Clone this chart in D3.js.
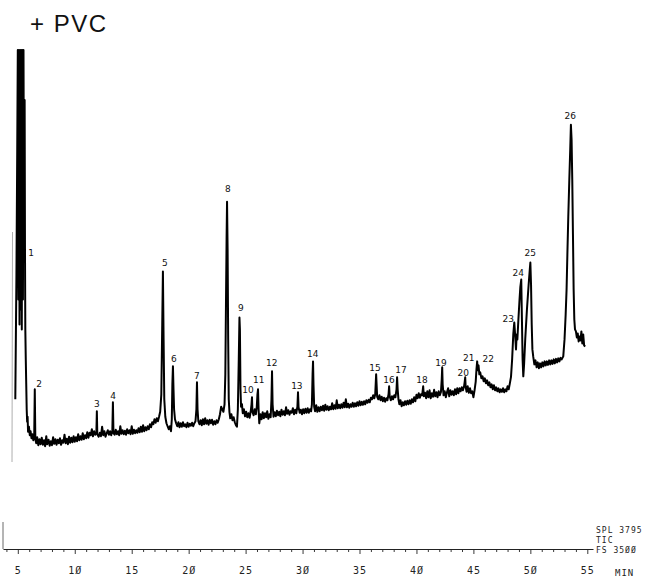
<!DOCTYPE html>
<html>
<head>
<meta charset="utf-8">
<script src="https://cdn.jsdelivr.net/npm/d3@7"></script>
<style>
  body { margin: 0; background: #fff; }
  svg { display: block; }
  .peak-label { font-family: "DejaVu Sans", sans-serif; font-size: 9px; fill: #111; text-anchor: middle; }
  .prn { font-family: "DejaVu Sans Mono", monospace; font-size: 9px; fill: #222; letter-spacing: 1px; }
  .axis path, .axis line { stroke: #222; }
</style>
</head>
<body>
<svg width="652" height="586"></svg>
<script>
var titleText = "+ PVC";
var infoLines = ["SPL 3795", "TIC", "FS 35ØØ"];
var unitLabel = "MIN";

// retention time (min) / relative signal (% of full scale)
var trace = [
  [4.78,30],[4.88,55],[4.95,80],[5.0,100],[5.05,50],[5.1,100],[5.15,45],[5.2,100],[5.25,48],[5.3,100],
  [5.35,44],[5.4,100],[5.45,50],[5.5,100],[5.55,60],[5.6,90],[5.63,60],[5.66,44],[5.7,38],[5.74,33],
  [5.78,28],[5.82,25.5],[5.86,26.5],[5.9,23.5],[5.98,24.5],[6.05,22.8],[6.12,23.6],[6.2,22.2],[6.28,23],
  [6.36,21.8],[6.44,22.6],[6.49,32],[6.54,22],[6.62,21.2],[6.7,22.4],[6.8,20.8],[6.9,22],[7.0,21],[7.1,22.3],
  [7.2,20.9],[7.3,21.8],[7.4,20.6],[7.5,22.6],[7.58,21],[7.7,21.9],[7.8,20.7],[7.9,21.6],[8.0,20.8],[8.1,22.4],
  [8.2,21.1],[8.3,22],[8.4,20.9],[8.5,21.9],[8.6,21.2],[8.7,22.2],[8.8,20.9],[8.9,21.8],[9.0,21.3],[9.1,22.9],
  [9.2,21.2],[9.3,22.1],[9.4,21],[9.5,22.5],[9.6,21.3],[9.7,22.3],[9.8,21.4],[9.9,22.6],[10.0,21.5],[10.1,22.4],
  [10.2,21.6],[10.3,23],[10.4,21.8],[10.5,22.6],[10.6,21.9],[10.7,23.2],[10.8,22],[10.9,22.8],[11.0,22.2],[11.1,23.4],
  [11.2,22.3],[11.3,23.3],[11.4,22.8],[11.5,24],[11.6,22.6],[11.7,23.6],[11.8,22.9],[11.9,23.4],[11.94,27.6],[11.98,23],
  [12.1,22.5],[12.2,23.3],[12.3,22.6],[12.4,24.5],[12.5,22.8],[12.6,23.6],[12.7,22.5],[12.8,23.2],[12.9,23.8],[13.0,22.9],
  [13.1,23.6],[13.2,22.8],[13.3,23.7],[13.35,29.4],[13.4,23.2],[13.5,22.9],[13.6,23.9],[13.7,23],[13.8,23.6],[13.9,22.8],
  [14.0,24.6],[14.1,23.1],[14.2,23.8],[14.3,23],[14.4,23.7],[14.5,22.9],[14.6,24],[14.7,23.2],[14.8,23.8],[14.9,23],
  [15.0,24.6],[15.1,23.1],[15.2,23.9],[15.3,23.2],[15.4,23.8],[15.5,23.3],[15.6,24.2],[15.7,23.4],[15.8,24.5],[15.9,23.5],
  [16.0,24.8],[16.1,23.6],[16.2,24.4],[16.3,23.8],[16.4,24.6],[16.5,24],[16.6,25],[16.7,24.4],[16.8,25.4],[16.9,25],
  [17.0,26],[17.1,25.3],[17.2,26.2],[17.3,25.6],[17.4,26.5],[17.5,27.5],[17.6,31],[17.68,45],[17.74,55.6],[17.8,42],
  [17.86,30],[17.95,26.5],[18.05,25.2],[18.15,24.6],[18.25,24],[18.35,24.6],[18.45,23.6],[18.52,26],[18.57,33],[18.62,36.6],
  [18.67,32],[18.72,28],[18.8,26],[18.9,25.2],[19.0,24.6],[19.1,25.4],[19.2,24.4],[19.3,25.2],[19.4,24.5],[19.5,25.4],
  [19.6,24.6],[19.7,25],[19.8,24.4],[19.9,25.3],[20.0,24.5],[20.1,25.1],[20.2,24.7],[20.3,25.3],[20.4,24.6],[20.5,25.2],
  [20.6,25.6],[20.68,28],[20.73,33.4],[20.78,28],[20.85,25.6],[20.95,25],[21.05,25.8],[21.15,24.8],[21.25,26],[21.35,25],
  [21.45,26.2],[21.55,25.1],[21.65,25.8],[21.75,24.9],[21.85,25.9],[21.95,25.2],[22.05,25.9],[22.15,24.9],[22.25,25.6],[22.35,25],
  [22.45,25.8],[22.55,25.3],[22.65,26],[22.75,27],[22.85,28.5],[22.95,28],[23.05,27.5],[23.15,29],[23.22,35],[23.28,50],
  [23.33,62],[23.37,69.6],[23.42,60],[23.47,42],[23.52,30],[23.58,27.5],[23.65,26.2],[23.75,27],[23.85,25.8],[23.95,26.4],
  [24.05,25.4],[24.15,24.8],[24.24,24.5],[24.32,28],[24.4,38],[24.46,46.4],[24.5,44],[24.55,32],[24.6,28.5],[24.68,29],
  [24.75,27.2],[24.85,28],[24.95,26.6],[25.05,27.5],[25.15,26.4],[25.25,27.2],[25.35,26.3],[25.45,27.6],[25.52,29],[25.56,30.4],
  [25.6,27.5],[25.7,26.8],[25.8,28],[25.9,27],[25.98,28.5],[26.04,31],[26.09,32],[26.14,28],[26.2,25.2],[26.3,27],
  [26.4,26],[26.5,27.4],[26.6,26.2],[26.7,27.2],[26.8,26.4],[26.9,27.6],[27.0,26.1],[27.1,27],[27.2,26.4],[27.27,30],
  [27.32,35.6],[27.37,29],[27.45,26.5],[27.55,27.4],[27.65,26.6],[27.75,27.7],[27.85,26.8],[27.95,27.5],[28.05,26.6],[28.15,27.9],
  [28.25,26.9],[28.35,27.6],[28.45,26.8],[28.55,28.4],[28.65,27.1],[28.75,27.8],[28.85,26.9],[28.95,27.6],[29.05,27.3],[29.15,28.2],
  [29.25,27],[29.35,27.9],[29.45,27.2],[29.55,28.6],[29.6,31.4],[29.65,28.4],[29.75,27.3],[29.85,27.9],[29.95,27],[30.05,28],
  [30.15,27.2],[30.25,28.1],[30.35,27.3],[30.45,28.2],[30.55,27.3],[30.65,28],[30.75,27.6],[30.82,29],[30.88,35],[30.92,37.6],
  [30.96,33],[31.02,28.5],[31.1,27.6],[31.2,28.8],[31.3,27.5],[31.4,28.4],[31.5,27.6],[31.6,28.5],[31.7,27.8],[31.8,28.7],
  [31.9,27.7],[32.0,28.9],[32.1,27.9],[32.2,28.6],[32.3,27.8],[32.4,28.5],[32.5,28],[32.6,29.2],[32.7,28],[32.8,28.8],
  [32.9,28.1],[33.0,29.8],[33.1,28.2],[33.2,28.9],[33.3,28.2],[33.4,29],[33.5,28.3],[33.6,29.3],[33.7,28.4],[33.8,30],
  [33.9,28.4],[34.0,29.1],[34.1,28.3],[34.2,29],[34.3,28.5],[34.4,29.3],[34.5,28.5],[34.6,29.2],[34.7,28.6],[34.8,29.4],
  [34.9,28.7],[35.0,29.6],[35.1,28.8],[35.2,29.5],[35.3,28.9],[35.4,29.6],[35.5,29],[35.6,29.8],[35.7,29.3],[35.8,29.9],
  [35.9,29.4],[36.0,30.3],[36.1,30],[36.2,30.8],[36.3,30.2],[36.38,31],[36.42,33],[36.46,35],[36.5,33],[36.55,30.5],
  [36.65,30],[36.75,30.8],[36.85,29.8],[36.95,30.5],[37.05,29.6],[37.15,30.3],[37.25,29.5],[37.35,30.2],[37.45,29.8],[37.55,31],
  [37.6,32.6],[37.65,30.6],[37.75,29.8],[37.85,30.6],[37.95,30],[38.05,30.8],[38.15,30.4],[38.25,32],[38.3,34.4],[38.35,32],
  [38.42,30],[38.5,29],[38.6,29.8],[38.7,28.6],[38.8,29.4],[38.9,28.8],[39.0,29.6],[39.1,28.9],[39.2,29.7],[39.3,29],
  [39.4,29.8],[39.5,29.1],[39.6,30],[39.7,29.4],[39.8,30.4],[39.9,29.6],[40.0,30.9],[40.1,30.2],[40.2,31.2],[40.3,30.3],
  [40.4,31],[40.5,30.8],[40.59,32.6],[40.65,30.6],[40.75,31.3],[40.85,30.2],[40.95,31.6],[41.05,30.4],[41.15,31.8],[41.25,30.2],
  [41.35,31.2],[41.45,30.5],[41.55,31.9],[41.65,30.6],[41.75,31.4],[41.85,30.4],[41.95,31.6],[42.05,30.8],[42.15,31.5],[42.22,34],
  [42.26,36.4],[42.3,33],[42.38,30.8],[42.48,31.6],[42.58,30.4],[42.68,31.4],[42.78,32.2],[42.88,30.6],[42.98,31.8],[43.08,30.9],
  [43.18,31.6],[43.28,30.8],[43.38,32],[43.48,31],[43.58,32.2],[43.68,31.2],[43.78,32.2],[43.88,31.6],[43.98,32.4],[44.08,31.8],
  [44.18,32.6],[44.24,33.6],[44.28,34.4],[44.32,32.5],[44.4,31.5],[44.5,32.6],[44.6,31.3],[44.7,32.2],[44.8,31.2],[44.9,31.6],
  [45.0,30.4],[45.1,31.8],[45.2,33.5],[45.27,36],[45.33,37.6],[45.38,35.8],[45.45,36.8],[45.52,35],[45.6,35.4],[45.7,34.2],
  [45.8,34.6],[45.9,33.6],[46.0,34.2],[46.1,33.2],[46.2,33.8],[46.3,32.8],[46.4,33.4],[46.5,32.4],[46.6,33],[46.7,32],
  [46.8,32.8],[46.9,31.8],[47.0,32.4],[47.1,31.6],[47.2,32.2],[47.3,31.4],[47.4,32],[47.5,31.5],[47.6,32.2],[47.7,31.4],
  [47.8,32],[47.9,31.6],[48.0,32.6],[48.1,32],[48.2,33.2],[48.3,34.5],[48.4,38],[48.5,43],[48.59,45.4],[48.66,43],
  [48.74,40],[48.8,43],[48.86,42],[48.95,46],[49.05,50],[49.12,52.5],[49.2,54],[49.26,46],[49.32,38],[49.38,34.6],
  [49.45,37],[49.55,42],[49.7,48],[49.85,53],[49.95,56],[50.0,57.4],[50.06,53],[50.12,45],[50.18,40],[50.25,38.6],
  [50.35,37],[50.45,37.8],[50.55,36.4],[50.65,37.4],[50.75,36.2],[50.85,37.2],[50.95,36.4],[51.05,37.4],[51.15,36.6],[51.25,37.6],
  [51.35,36.8],[51.45,37.6],[51.55,36.9],[51.65,37.8],[51.75,37],[51.85,37.8],[51.95,37.1],[52.05,38],[52.15,37.2],[52.25,38.1],
  [52.35,37.4],[52.45,38.2],[52.55,37.6],[52.65,38.3],[52.75,38],[52.89,38.6],[53.0,42],[53.1,47],[53.18,52],[53.26,60],
  [53.33,66.6],[53.42,74],[53.5,80],[53.56,85],[53.62,82],[53.68,74],[53.74,63],[53.8,52],[53.86,46],[53.92,44],
  [54.0,43.6],[54.08,42.4],[54.16,43.2],[54.24,41.6],[54.32,42.6],[54.4,41.8],[54.48,43.6],[54.56,41.2],[54.64,43],[54.72,40.8],
  [54.82,40.6]
];

// peak numbers and where their labels sit (min, % full scale)
var peakIds = ["1","2","3","4","5","6","7","8","9","10","11","12","13",
               "14","15","16","17","18","19","20","21","22","23","24","25","26"];
var peakTimes = [6.16, 6.86, 11.95, 13.36, 17.92, 18.71, 20.73, 23.45, 24.59, 25.2, 26.16, 27.3, 29.5,
                 30.9, 36.36, 37.59, 38.64, 40.49, 42.16, 44.1, 44.6, 46.3, 48.06, 48.94, 49.99, 53.5];
var peakTops  = [58.7, 32.5, 28.5, 30.1, 56.7, 37.5, 34.1, 71.5, 47.7, 31.3, 33.3, 36.7, 32.1,
                 38.5, 35.7, 33.3, 35.3, 33.3, 36.7, 34.7, 37.7, 37.5, 45.5, 54.7, 58.7, 86.2];

var timeTicks = d3.range(4, 56, 1);

var svg = d3.select("svg");

var x = d3.scaleLinear().domain([3.7, 55.5]).range([3, 593]),
    y = d3.scaleLinear().domain([0, 100]).range([549, 50]);

// title
svg.append("text")
    .attr("x", 30).attr("y", 32)
    .style("font-family", "'Liberation Sans', Arial, sans-serif")
    .style("font-size", "24px")
    .style("letter-spacing", "1.5px")
    .style("fill", "#111")
    .text(titleText);

// faint left guide line from the scan
svg.append("line")
    .attr("x1", 12.5).attr("x2", 12)
    .attr("y1", 232).attr("y2", 462)
    .attr("stroke", "#999").attr("stroke-width", 0.8);
svg.append("line")
    .attr("x1", 3).attr("x2", 3)
    .attr("y1", 522).attr("y2", 549)
    .attr("stroke", "#444").attr("stroke-width", 0.8);

// time axis
var xAxis = d3.axisBottom(x)
    .tickValues(timeTicks)
    .tickSizeInner(3)
    .tickSizeOuter(0)
    .tickPadding(15)
    .tickFormat(function(d) { return d % 5 === 0 ? String(d).replace(/0/g, "Ø") : ""; });

var gx = svg.append("g")
    .attr("class", "axis")
    .attr("transform", "translate(0," + y(0) + ")")
    .call(xAxis);
gx.select(".domain").attr("stroke-width", 1.1);
gx.selectAll(".tick line")
    .attr("stroke-width", 0.9)
    .attr("y2", function(d) { return d % 5 === 0 ? 5 : 3; });
gx.selectAll(".tick text")
    .attr("class", "prn")
    .style("font-size", "10px");

svg.append("text")
    .attr("class", "prn")
    .attr("x", 615).attr("y", 576)
    .style("font-size", "9px")
    .text(unitLabel);

svg.selectAll(".info")
    .data(infoLines)
    .enter().append("text")
    .attr("class", "prn info")
    .attr("x", 596)
    .attr("y", function(d, i) { return 533 + i * 10; })
    .style("font-size", "8px")
    .text(function(d) { return d; });

// chromatogram trace
var line = d3.line()
    .x(function(d) { return x(d[0]); })
    .y(function(d) { return y(d[1]); });

svg.append("path")
    .datum(trace)
    .attr("d", line)
    .attr("fill", "none")
    .attr("stroke", "#000")
    .attr("stroke-width", 2)
    .attr("stroke-linejoin", "round");

// peak numbers
svg.selectAll(".peak-label")
    .data(peakIds)
    .enter().append("text")
    .attr("class", "peak-label")
    .attr("x", function(d, i) { return x(peakTimes[i]); })
    .attr("y", function(d, i) { return y(peakTops[i]); })
    .text(function(d) { return d; });
</script>
</body>
</html>
